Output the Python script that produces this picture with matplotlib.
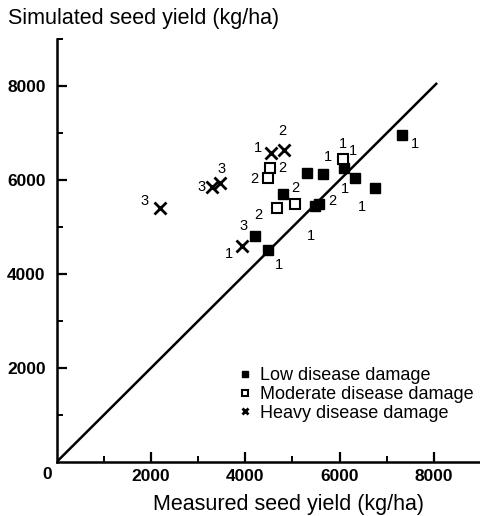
import numpy as np
import matplotlib.pyplot as plt

plt.rcParams['font.family'] = ['Liberation Sans', 'DejaVu Sans']

# measured (x) vs simulated (y) seed yield, kg/ha
low_x = [7324, 5309, 5648, 6087, 6335, 6745, 4800, 5487, 5572, 4199, 4482]
low_y = [6951, 6155, 6140, 6262, 6049, 5836, 5693, 5458, 5501, 4818, 4505]
mod_x = [6066, 4532, 4475, 5048, 4673]
mod_y = [6454, 6262, 6034, 5501, 5409]
heavy_x = [4553, 4814, 3471, 3295, 3931, 2199]
heavy_y = [6567, 6631, 5942, 5849, 4606, 5409]

# small number labels next to the points
lab_text = ['1', '1', '1', '1', '1', '1', '2', '1', '2', '2',
            '3', '1', '1', '2', '1', '2', '2', '3', '3', '3']
lab_x = [7608, 6072, 6284, 5754, 6123, 6475, 5854, 5402, 5063, 4284,
         3966, 3648, 4708, 4793, 4269, 4793, 4193, 3506, 3069, 1866]
lab_y = [6759, 6774, 6616, 6497, 5800, 5431, 5550, 4804, 5836, 5266,
         5032, 4435, 4200, 7043, 6689, 6247, 6013, 6241, 5857, 5565]

line_end = 8050

fig = plt.figure(figsize=(4.81, 5.16), dpi=100)
ax = fig.add_axes([0.118, 0.105, 0.882, 0.819])

ax.plot([0, line_end], [0, line_end], color='black', lw=1.8, zorder=1)
ax.plot(low_x, low_y, 's', color='black', ms=7.5, ls='none',
        label='Low disease damage', zorder=3)
ax.plot(mod_x, mod_y, 's', mfc='white', mec='black', mew=1.5, ms=7.5,
        ls='none', label='Moderate disease damage', zorder=3)
ax.plot(heavy_x, heavy_y, 'x', color='black', mew=2.0, ms=8.5,
        ls='none', label='Heavy disease damage', zorder=3)

for t, x, y in zip(lab_text, lab_x, lab_y):
    ax.text(x, y, t, fontsize=10.5, ha='center', va='center')

ax.set_xlim(0, 9000)
ax.set_ylim(0, 9000)
ax.set_xticks([2000, 4000, 6000, 8000])
ax.set_yticks([2000, 4000, 6000, 8000])
ax.set_xticks([1000, 3000, 5000, 7000, 9000], minor=True)
ax.set_yticks([1000, 3000, 5000, 7000, 9000], minor=True)
ax.tick_params(which='major', direction='in', length=7, width=1.6,
               labelsize=12.5, pad=5)
ax.tick_params(axis='y', which='major', pad=8)
ax.tick_params(which='minor', direction='in', length=4, width=1.4)
for lbl in ax.get_xticklabels() + ax.get_yticklabels():
    lbl.set_fontweight('bold')
for s in ['top', 'right']:
    ax.spines[s].set_visible(False)
for s in ['left', 'bottom']:
    ax.spines[s].set_linewidth(1.8)

ax.text(-0.012, -0.012, '0', transform=ax.transAxes, fontsize=12.5,
        fontweight='bold', ha='right', va='top')
fig.text(0.017, 0.964, 'Simulated seed yield (kg/ha)', fontsize=15.5,
         ha='left', va='center')
ax.set_xlabel('Measured seed yield (kg/ha)', fontsize=15.5, labelpad=4)
ax.xaxis.set_label_coords(0.547, -0.075)

ax.legend(loc='lower left', bbox_to_anchor=(0.432, 0.095), frameon=False,
          markerscale=0.55, fontsize=13, handlelength=0.6,
          handletextpad=0.5, labelspacing=0.1, borderaxespad=0,
          borderpad=0)

fig.savefig('out.png', dpi=100)
